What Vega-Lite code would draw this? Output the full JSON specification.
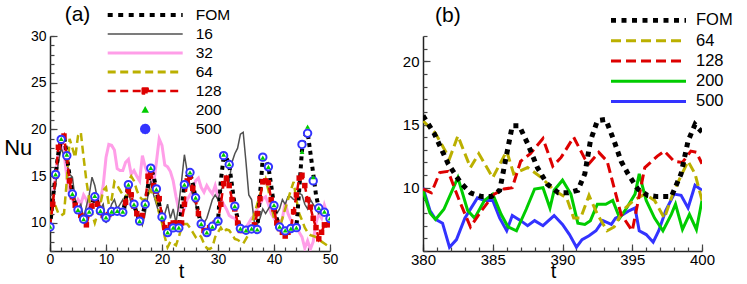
{
"$schema":"https://vega.github.io/schema/vega-lite/v6.json",
"background":"white",
"padding":{"left":3,"top":3,"right":5,"bottom":5},
"spacing":64,
"config":{"view":{"stroke":null},"axis":{"grid":false,"domainColor":"#222222","domainWidth":1.5,"tickColor":"#444444","tickWidth":1.2,"labelColor":"black","labelFont":"Liberation Sans","titleFont":"Liberation Sans","titleFontWeight":"normal","titleColor":"black"}},
"resolve":{"scale":{"color":"independent"},"legend":{"color":"independent"}},
"datasets":{
"a":[
{"t":0,"FOM":9.6,"16":10,"32":10,"64":10.5,"128":9.6,"200":9.6,"500":9.57},
{"t":0.5,"FOM":12.5,"16":12.5,"32":12.5,"64":12.5,"128":12},
{"t":1,"FOM":15.2,"16":14,"32":15,"64":11.8,"128":15,"200":15.2,"500":15.19},
{"t":1.5,"FOM":17.5,"16":16.5,"32":17.5,"64":11,"128":18.1},
{"t":2,"FOM":18.9,"16":18,"32":18.5,"64":10.8,"128":18.7,"200":19,"500":18.94},
{"t":2.5,"FOM":19.4,"16":17.2,"32":17.5,"64":11,"128":19.3},
{"t":3,"FOM":17.2,"16":16.4,"32":15,"64":14.5,"128":17,"200":17.3,"500":17.2},
{"t":3.5,"FOM":15,"16":15.2,"32":13,"64":19,"128":14.5},
{"t":4,"FOM":13.1,"16":14.9,"32":12.5,"64":18,"128":12.8,"200":13.1,"500":13.1},
{"t":4.5,"FOM":12,"16":12.5,"32":11.8,"64":17,"128":11.9},
{"t":5,"FOM":11.4,"16":11.5,"32":12.5,"64":19.3,"128":11.3,"200":11.4,"500":11.4},
{"t":5.5,"FOM":10.8,"16":12,"32":12,"64":19.7,"128":10.8},
{"t":6,"FOM":10.4,"16":10.5,"32":13,"64":17,"128":10.3,"200":10.4,"500":10.4},
{"t":6.5,"FOM":10.6,"16":11.8,"32":12.5,"64":14.5,"128":9.8},
{"t":7,"FOM":11.2,"16":13,"32":11.5,"64":12.5,"128":11,"200":11.2,"500":11.15},
{"t":7.5,"FOM":12,"16":14.9,"32":12.5,"64":11,"128":11.8},
{"t":8,"FOM":12.8,"16":14,"32":13,"64":10,"128":12.6,"200":12.9,"500":12.8},
{"t":8.5,"FOM":12.2,"16":12.5,"32":12,"64":11,"128":12},
{"t":9,"FOM":11.3,"16":11.5,"32":12.5,"64":12,"128":11.2,"200":11.3,"500":11.3},
{"t":9.5,"FOM":10.8,"16":12,"32":14,"64":13.5,"128":10.8},
{"t":10,"FOM":10.5,"16":10,"32":17,"64":13.8,"128":10.5,"200":10.6,"500":10.55},
{"t":10.5,"FOM":10.8,"16":11,"32":18.4,"64":12,"128":10.9},
{"t":11,"FOM":11.2,"16":12,"32":18.3,"64":12.5,"128":11.2,"200":11.2,"500":11.22},
{"t":11.5,"FOM":11.3,"16":12.5,"32":17.8,"64":14.4,"128":11.2},
{"t":12,"FOM":11.2,"16":11.5,"32":15.8,"64":14,"128":11.2,"200":11.3,"500":11.25},
{"t":12.5,"FOM":11.2,"16":12,"32":15.6,"64":13.5,"128":11.2},
{"t":13,"FOM":11.1,"16":12.5,"32":15.6,"64":13,"128":11.1,"200":11.2,"500":11.15},
{"t":13.5,"FOM":12.5,"16":11.5,"32":16.5,"64":12.5,"128":12.2},
{"t":14,"FOM":14.1,"16":13.5,"32":16.8,"64":14.5,"128":13.5,"200":14.1,"500":14.1},
{"t":14.5,"FOM":13.2,"16":12,"32":15.2,"64":15,"128":13},
{"t":15,"FOM":12,"16":11.5,"32":15.6,"64":14.5,"128":11.8,"200":12,"500":12},
{"t":15.5,"FOM":11,"16":11.2,"32":15,"64":13.5,"128":11},
{"t":16,"FOM":10.2,"16":10.8,"32":14.5,"64":12.8,"128":10.2,"200":10.2,"500":10.2},
{"t":16.5,"FOM":10.8,"16":9.8,"32":17.2,"64":12.5,"128":10.8},
{"t":17,"FOM":12,"16":11,"32":16,"64":12.5,"128":12,"200":12,"500":12},
{"t":17.5,"FOM":14,"16":13,"32":15.2,"64":13,"128":15},
{"t":18,"FOM":15.9,"16":14.5,"32":14.8,"64":13.5,"128":15.5,"200":15.9,"500":15.86},
{"t":18.5,"FOM":15,"16":13,"32":14.2,"64":13,"128":14},
{"t":19,"FOM":13.6,"16":12,"32":16.5,"64":12.5,"128":13.4,"200":13.6,"500":13.64},
{"t":19.5,"FOM":12,"16":11,"32":19,"64":11,"128":12.6},
{"t":20,"FOM":10.6,"16":10.5,"32":18.3,"64":10,"128":10.7,"200":10.6,"500":10.64},
{"t":20.5,"FOM":9.6,"16":11,"32":16.2,"64":8.5,"128":9.5},
{"t":21,"FOM":9,"16":12,"32":16,"64":7.4,"128":9.2,"200":9,"500":8.97},
{"t":21.5,"FOM":9.2,"16":10.5,"32":15.5,"64":8,"128":9.8},
{"t":22,"FOM":9.5,"16":11.5,"32":14.5,"64":7.8,"128":10,"200":9.5,"500":9.47},
{"t":22.5,"FOM":9.4,"16":10,"32":12.8,"64":7.6,"128":10},
{"t":23,"FOM":9.5,"16":12,"32":11.4,"64":8.5,"128":9.9,"200":9.5,"500":9.47},
{"t":23.5,"FOM":11.5,"16":14.5,"32":11,"64":9.5,"128":10},
{"t":24,"FOM":14.1,"16":17.3,"32":11.5,"64":9.9,"128":12,"200":14.1,"500":14.1},
{"t":24.5,"FOM":15,"16":15.5,"32":12.5,"64":9.9,"128":14.5},
{"t":25,"FOM":15.4,"16":14,"32":13,"64":9.5,"128":15,"200":15.4,"500":15.4},
{"t":25.5,"FOM":14.2,"16":13,"32":13.5,"64":9,"128":13.7},
{"t":26,"FOM":12.7,"16":12,"32":14.5,"64":8.5,"128":12.5,"200":12.7,"500":12.7},
{"t":26.5,"FOM":11,"16":11,"32":14.8,"64":8.8,"128":11},
{"t":27,"FOM":9.9,"16":10.5,"32":13.8,"64":8.5,"128":9.8,"200":9.9,"500":9.9},
{"t":27.5,"FOM":9.3,"16":10,"32":13.3,"64":7.8,"128":9.2},
{"t":28,"FOM":9,"16":10.5,"32":14,"64":7.3,"128":9,"200":9,"500":8.97},
{"t":28.5,"FOM":9.2,"16":11.5,"32":13.5,"64":7.2,"128":9.5},
{"t":29,"FOM":9.6,"16":12.5,"32":13.1,"64":7.4,"128":9.7,"200":9.6,"500":9.64},
{"t":29.5,"FOM":9.8,"16":13,"32":14,"64":8.5,"128":10},
{"t":30,"FOM":10.2,"16":12.5,"32":12.8,"64":9,"128":10.2,"200":10.2,"500":10.2},
{"t":30.5,"FOM":14.5,"16":13.5,"32":12.6,"64":9.5,"128":12},
{"t":31,"FOM":17,"16":14,"32":12,"64":9,"128":14.2,"200":17.3,"500":17.2},
{"t":31.5,"FOM":17,"16":15,"32":11.5,"64":9.3,"128":14.8},
{"t":32,"FOM":16.2,"16":14.5,"32":10.8,"64":9.2,"128":14,"200":16.3,"500":16.25},
{"t":32.5,"FOM":14,"16":16.5,"32":10.6,"64":8.8,"128":12.5},
{"t":33,"FOM":11.8,"16":17.4,"32":10.5,"64":8.3,"128":11.5,"200":11.8,"500":11.8},
{"t":33.5,"FOM":10.5,"16":18,"32":10,"64":8.2,"128":10},
{"t":34,"FOM":9.4,"16":19.5,"32":9.5,"64":8,"128":9.2,"200":9.4,"500":9.4},
{"t":34.5,"FOM":9.3,"16":19.7,"32":9.3,"64":7.8,"128":9.2},
{"t":35,"FOM":9.2,"16":16.5,"32":9.5,"64":8.3,"128":9.2,"200":9.2,"500":9.22},
{"t":35.5,"FOM":9.3,"16":13,"32":10,"64":8.8,"128":9.3},
{"t":36,"FOM":9.4,"16":12.5,"32":10.5,"64":9.9,"128":9.3,"200":9.4,"500":9.36},
{"t":36.5,"FOM":9.3,"16":10,"32":10.8,"64":11,"128":9.8},
{"t":37,"FOM":9.3,"16":9.8,"32":11.5,"64":12,"128":11,"200":9.3,"500":9.3},
{"t":37.5,"FOM":13,"16":10.5,"32":12,"64":13,"128":12.6},
{"t":38,"FOM":17,"16":11.5,"32":12.6,"64":14,"128":14.4,"200":17,"500":17.04},
{"t":38.5,"FOM":16.8,"16":11,"32":12.8,"64":14.7,"128":14.5},
{"t":39,"FOM":16,"16":11.5,"32":12,"64":13.5,"128":14.3,"200":16,"500":16},
{"t":39.5,"FOM":14,"16":12,"32":11,"64":12,"128":12.5},
{"t":40,"FOM":11.9,"16":11.5,"32":10.5,"64":10.5,"128":11.5,"200":11.9,"500":11.86},
{"t":40.5,"FOM":10.5,"16":11,"32":10,"64":9.8,"128":10},
{"t":41,"FOM":9.6,"16":11.5,"32":9.8,"64":9.4,"128":9.4,"200":9.6,"500":9.57},
{"t":41.5,"FOM":9.3,"16":12.5,"32":10.5,"64":10.5,"128":9},
{"t":42,"FOM":9.2,"16":12,"32":12.2,"64":11.5,"128":8.6,"200":9.2,"500":9.15},
{"t":42.5,"FOM":9.2,"16":12.8,"32":11,"64":12.5,"128":9},
{"t":43,"FOM":9.4,"16":12.8,"32":10.3,"64":13.5,"128":9.5,"200":9.4,"500":9.4},
{"t":43.5,"FOM":9.4,"16":12.5,"32":10,"64":14.4,"128":11.2},
{"t":44,"FOM":9.5,"16":12.5,"32":9.5,"64":12.5,"128":13,"200":9.5,"500":9.5},
{"t":44.5,"FOM":13.5,"16":13.2,"32":9,"64":11,"128":14.8},
{"t":45,"FOM":17.8,"16":13,"32":8.5,"64":10.3,"128":15.1,"200":17.6,"500":18.4},
{"t":45.5,"FOM":19.2,"16":12,"32":7.3,"64":9.5,"128":14},
{"t":46,"FOM":19.7,"16":11.5,"32":8.1,"64":9,"128":12.5,"200":20.3,"500":19.6},
{"t":46.5,"FOM":17.5,"16":12.5,"32":7.2,"64":8.7,"128":11.7},
{"t":47,"FOM":15.3,"16":12,"32":8,"64":8.6,"128":10.5,"200":14.9,"500":14.5},
{"t":47.5,"FOM":13,"16":11.5,"32":10,"64":8.5,"128":9.5},
{"t":48,"FOM":11.6,"16":11,"32":11,"64":8.2,"128":8.3,"200":11.6,"500":11.6},
{"t":48.5,"FOM":11.4,"16":11.5,"32":10.5,"64":8,"128":9},
{"t":49,"FOM":11.2,"16":11,"32":11.9,"64":7.8,"128":9.8,"200":11.2,"500":11.15},
{"t":49.5,"FOM":10.8,"16":10.8,"32":11,"64":7.6,"128":9.8},
{"t":50,"FOM":10.5,"16":10.5,"32":10.5,"64":7.8,"128":10,"200":10.5,"500":10.47}
],
"b":[
{"s":"FOM","t":380,"v":15.7},{"s":"FOM","t":380.8,"v":14.3},{"s":"FOM","t":381.8,"v":11.9},{"s":"FOM","t":382.7,"v":10.4},{"s":"FOM","t":383.4,"v":9.6},{"s":"FOM","t":384.2,"v":9.3},{"s":"FOM","t":384.9,"v":9.3},{"s":"FOM","t":385.5,"v":9.8},{"s":"FOM","t":385.9,"v":12.1},{"s":"FOM","t":386.4,"v":14.9},{"s":"FOM","t":386.9,"v":14.9},{"s":"FOM","t":387.5,"v":13.5},{"s":"FOM","t":388.2,"v":11.6},{"s":"FOM","t":388.9,"v":10.3},{"s":"FOM","t":389.7,"v":9.6},{"s":"FOM","t":390.4,"v":9.6},{"s":"FOM","t":391.1,"v":9.8},{"s":"FOM","t":391.6,"v":11.1},{"s":"FOM","t":392,"v":13.7},{"s":"FOM","t":392.5,"v":15.3},{"s":"FOM","t":393.1,"v":15.4},{"s":"FOM","t":393.7,"v":13.7},{"s":"FOM","t":394.2,"v":12.1},{"s":"FOM","t":394.7,"v":11.1},{"s":"FOM","t":395.4,"v":9.9},{"s":"FOM","t":396.1,"v":9.4},{"s":"FOM","t":396.8,"v":9.3},{"s":"FOM","t":397.8,"v":9.3},{"s":"FOM","t":398.5,"v":11.1},{"s":"FOM","t":399,"v":13.7},{"s":"FOM","t":399.5,"v":15},{"s":"FOM","t":400,"v":14.4},
{"s":"64","t":380,"v":15.3},{"s":"64","t":380.9,"v":14.3},{"s":"64","t":381.9,"v":12.3},{"s":"64","t":382.5,"v":14.1},{"s":"64","t":383.4,"v":11.6},{"s":"64","t":384,"v":12.7},{"s":"64","t":385,"v":10.8},{"s":"64","t":386,"v":12.9},{"s":"64","t":386.5,"v":11.1},{"s":"64","t":387.5,"v":11.6},{"s":"64","t":388.5,"v":10.8},{"s":"64","t":389.4,"v":9.8},{"s":"64","t":390.3,"v":9.2},{"s":"64","t":390.8,"v":7.6},{"s":"64","t":391.3,"v":7.6},{"s":"64","t":391.9,"v":9.4},{"s":"64","t":392.5,"v":7.9},{"s":"64","t":393.2,"v":6.6},{"s":"64","t":393.7,"v":6.9},{"s":"64","t":394.4,"v":8.3},{"s":"64","t":395.1,"v":9},{"s":"64","t":395.9,"v":9.5},{"s":"64","t":396.6,"v":9},{"s":"64","t":397.3,"v":7.6},{"s":"64","t":398,"v":9.8},{"s":"64","t":399,"v":12.1},{"s":"64","t":399.5,"v":11.1},{"s":"64","t":400,"v":9},
{"s":"128","t":380,"v":9.9},{"s":"128","t":380.6,"v":9.6},{"s":"128","t":381.2,"v":11.2},{"s":"128","t":381.8,"v":11.3},{"s":"128","t":382.6,"v":9},{"s":"128","t":383.4,"v":6.9},{"s":"128","t":384.2,"v":8.2},{"s":"128","t":385.1,"v":9.5},{"s":"128","t":385.8,"v":9.9},{"s":"128","t":386.4,"v":10},{"s":"128","t":387,"v":12.1},{"s":"128","t":387.7,"v":12.7},{"s":"128","t":388.6,"v":13.9},{"s":"128","t":389.3,"v":11.7},{"s":"128","t":389.9,"v":12.4},{"s":"128","t":390.8,"v":14},{"s":"128","t":391.6,"v":12.3},{"s":"128","t":391.9,"v":11.9},{"s":"128","t":392.6,"v":12.8},{"s":"128","t":393.2,"v":12.1},{"s":"128","t":393.7,"v":10},{"s":"128","t":394.2,"v":7.9},{"s":"128","t":395,"v":6.6},{"s":"128","t":395.9,"v":11.6},{"s":"128","t":396.8,"v":12.5},{"s":"128","t":397.3,"v":12.9},{"s":"128","t":398,"v":12.1},{"s":"128","t":398.6,"v":12},{"s":"128","t":399.2,"v":12.9},{"s":"128","t":399.6,"v":12.8},{"s":"128","t":400,"v":11.9},
{"s":"200","t":380,"v":9.8},{"s":"200","t":380.5,"v":8},{"s":"200","t":380.9,"v":7.5},{"s":"200","t":381.5,"v":8.3},{"s":"200","t":382.5,"v":10.8},{"s":"200","t":383.2,"v":8.2},{"s":"200","t":383.7,"v":7.6},{"s":"200","t":384.4,"v":9},{"s":"200","t":385,"v":9.5},{"s":"200","t":385.6,"v":7.9},{"s":"200","t":386.1,"v":6.9},{"s":"200","t":386.7,"v":6.6},{"s":"200","t":387.4,"v":8.3},{"s":"200","t":388,"v":9.9},{"s":"200","t":388.6,"v":10},{"s":"200","t":389.1,"v":8.4},{"s":"200","t":389.4,"v":9.8},{"s":"200","t":390,"v":10.6},{"s":"200","t":390.6,"v":9.5},{"s":"200","t":391.1,"v":7.2},{"s":"200","t":391.6,"v":7.1},{"s":"200","t":392,"v":7.4},{"s":"200","t":392.5,"v":8.7},{"s":"200","t":393.1,"v":8.7},{"s":"200","t":393.6,"v":9},{"s":"200","t":394.1,"v":7.6},{"s":"200","t":394.6,"v":8.4},{"s":"200","t":395.2,"v":9.5},{"s":"200","t":395.5,"v":11.1},{"s":"200","t":396,"v":9},{"s":"200","t":396.6,"v":7.6},{"s":"200","t":397.2,"v":6.6},{"s":"200","t":397.8,"v":7.9},{"s":"200","t":398.1,"v":8.7},{"s":"200","t":398.6,"v":6.7},{"s":"200","t":399.1,"v":7.9},{"s":"200","t":399.6,"v":6.7},{"s":"200","t":400,"v":9},
{"s":"500","t":380,"v":10},{"s":"500","t":380.5,"v":8.2},{"s":"500","t":380.9,"v":7.5},{"s":"500","t":381.4,"v":7.2},{"s":"500","t":381.9,"v":5.3},{"s":"500","t":382.4,"v":5.9},{"s":"500","t":383,"v":7.6},{"s":"500","t":383.9,"v":9.2},{"s":"500","t":384.4,"v":9},{"s":"500","t":385,"v":9},{"s":"500","t":385.5,"v":7.6},{"s":"500","t":386,"v":6.6},{"s":"500","t":386.4,"v":7.8},{"s":"500","t":387,"v":7.4},{"s":"500","t":387.5,"v":7},{"s":"500","t":388,"v":7.4},{"s":"500","t":388.6,"v":7},{"s":"500","t":389.4,"v":7.8},{"s":"500","t":390,"v":7.1},{"s":"500","t":390.5,"v":6.3},{"s":"500","t":391,"v":5.3},{"s":"500","t":391.4,"v":5.9},{"s":"500","t":391.9,"v":6.2},{"s":"500","t":392.4,"v":6.6},{"s":"500","t":392.9,"v":7.4},{"s":"500","t":393.5,"v":7.1},{"s":"500","t":393.8,"v":7.6},{"s":"500","t":394.2,"v":7.8},{"s":"500","t":394.8,"v":8.2},{"s":"500","t":395.2,"v":8.4},{"s":"500","t":395.5,"v":6.6},{"s":"500","t":396,"v":6.3},{"s":"500","t":396.5,"v":5.7},{"s":"500","t":396.9,"v":6.6},{"s":"500","t":397.4,"v":8.2},{"s":"500","t":398,"v":9.5},{"s":"500","t":398.5,"v":9.4},{"s":"500","t":399,"v":8.4},{"s":"500","t":399.5,"v":10.2},{"s":"500","t":400,"v":9.8}
]
},
"hconcat":[
{
"width":280,"height":215,
"data":{"name":"a"},
"transform":[{"fold":["FOM","16","32","64","128","200","500"],"as":["s","v"]}],
"resolve":{"axis":{"x":"independent","y":"independent"}},
"layer":[
{"transform":[{"filter":"datum.s==='32'"}],
 "mark":{"type":"line","strokeWidth":3,"clip":true},
 "encoding":{
  "x":{"field":"t","type":"quantitative","scale":{"domain":[0,50],"nice":false,"zero":false},
       "axis":{"orient":"bottom","values":[0,10,20,30,40,50],"tickSize":-7,"labelPadding":8,"labelFontSize":14,"labelFlush":false,"title":"t","titleFontSize":20,"titleX":131,"titleY":26,"titleBaseline":"alphabetic","titleAlign":"center"}},
  "y":{"field":"v","type":"quantitative","scale":{"domain":[7,30],"nice":false,"zero":false},
       "axis":{"orient":"left","values":[10,15,20,25,30],"tickSize":-7,"labelPadding":11,"labelFontSize":14,"labelFlush":false,"title":"Nu","titleFontSize":22,"titleAngle":0,"titleX":-46.3,"titleY":111,"titleAlign":"left","titleBaseline":"middle"}},
  "color":{"field":"s","type":"nominal",
   "scale":{"domain":["FOM","16","32","64","128","200","500"],"range":["#000000","#505050","#ff9ee8","#bbb000","#dd0000","#00cc00","#3333ff"]},
   "legend":{"orient":"none","legendX":54.95,"legendY":-29.3,"title":null,"padding":0,"columns":1,
     "symbolType":"M-1,0H14","symbolSize":100,"symbolStrokeWidth":3,"symbolOpacity":1,
     "clipHeight":16.6,"rowPadding":2,
     "labelFont":"Liberation Sans","labelFontSize":15.5,"labelOffset":75.25,"labelColor":"black",
     "encode":{"symbols":{"update":{
       "shape":{"signal":"datum.value==='128'?'M-1,0H14M6,-0.5H7V0.5H6Z':datum.value==='200'?'M6.5,-0.8L7.25,0.55L5.75,0.55Z':datum.value==='500'?'M7.35,0L7.236,0.425L6.925,0.736L6.5,0.85L6.075,0.736L5.764,0.425L5.65,0L5.764,-0.425L6.075,-0.736L6.5,-0.85L6.925,-0.736L7.236,-0.425Z':'M-1,0H14'"},
       "fill":{"signal":"datum.value==='128'?'#dd0000':datum.value==='200'?'#00cc00':datum.value==='500'?'#ffffff':'transparent'"},
       "stroke":{"signal":"datum.value==='FOM'?'#000000':datum.value==='16'?'#505050':datum.value==='32'?'#ff9ee8':datum.value==='64'?'#bbb000':datum.value==='128'?'#dd0000':datum.value==='200'?'#00cc00':'#3333ff'"},
       "strokeWidth":{"signal":"datum.value==='FOM'?4.2:datum.value==='16'?1.5:datum.value==='200'?0:datum.value==='500'?2:datum.value==='128'?2.5:3"},
       "strokeDash":{"signal":"datum.value==='FOM'?[5,5.5]:(datum.value==='64'||datum.value==='128')?[8,4.5]:[1,0]"},
       "strokeJoin":{"value":"round"},
       "opacity":{"value":1}
     }}}}}
 }},
{"transform":[{"filter":"datum.s==='16'"}],
 "mark":{"type":"line","strokeWidth":1.5,"clip":true},
 "encoding":{
  "x":{"field":"t","type":"quantitative","axis":{"orient":"bottom","values":[0,2,4,6,8,10,12,14,16,18,20,22,24,26,28,30,32,34,36,38,40,42,44,46,48,50],"tickSize":-4,"labels":false,"domain":false,"title":null}},
  "y":{"field":"v","type":"quantitative","axis":{"orient":"left","values":[7,8,9,10,11,12,13,14,15,16,17,18,19,20,21,22,23,24,25,26,27,28,29,30],"tickSize":-4,"labels":false,"domain":false,"title":"(a)","titleFontSize":21,"titleAngle":0,"titleX":14.2,"titleY":-15.4,"titleAlign":"left","titleBaseline":"alphabetic"}},
  "color":{"field":"s","type":"nominal"}
 }},
{"transform":[{"filter":"datum.s==='64'"}],
 "mark":{"type":"line","strokeWidth":2.5,"strokeDash":[8,4.5],"clip":true},
 "encoding":{"x":{"field":"t","type":"quantitative","axis":null},"y":{"field":"v","type":"quantitative","axis":null},"color":{"field":"s","type":"nominal"}}},
{"transform":[{"filter":"datum.s==='FOM'"}],
 "mark":{"type":"line","strokeWidth":4,"strokeDash":[4,4],"clip":true},
 "encoding":{"x":{"field":"t","type":"quantitative","axis":null},"y":{"field":"v","type":"quantitative","axis":null},"color":{"field":"s","type":"nominal"}}},
{"transform":[{"filter":"datum.s==='128'"}],
 "mark":{"type":"line","strokeWidth":2.5,"strokeDash":[8,4.5],"clip":true},
 "encoding":{"x":{"field":"t","type":"quantitative","axis":null},"y":{"field":"v","type":"quantitative","axis":null},"color":{"field":"s","type":"nominal"}}},
{"transform":[{"filter":"datum.s==='128'"}],
 "mark":{"type":"point","shape":"square","filled":true,"size":30,"opacity":1,"clip":true},
 "encoding":{"x":{"field":"t","type":"quantitative","axis":null},"y":{"field":"v","type":"quantitative","axis":null},"color":{"field":"s","type":"nominal"}}},
{"transform":[{"filter":"datum.s==='500'"}],
 "mark":{"type":"point","shape":"circle","filled":false,"size":55,"strokeWidth":2,"opacity":1,"fill":"white","fillOpacity":1,"clip":true},
 "encoding":{"x":{"field":"t","type":"quantitative","axis":null},"y":{"field":"v","type":"quantitative","axis":null},"color":{"field":"s","type":"nominal"}}},
{"transform":[{"filter":"datum.s==='200'"}],
 "mark":{"type":"point","shape":"triangle-up","filled":true,"size":24,"opacity":1,"clip":true},
 "encoding":{"x":{"field":"t","type":"quantitative","axis":null},"y":{"field":"v","type":"quantitative","axis":null},"color":{"field":"s","type":"nominal"}}}
]
},
{
"width":279,"height":215,
"data":{"name":"b"},
"resolve":{"axis":{"x":"independent","y":"independent"}},
"layer":[
{"transform":[{"filter":"datum.s==='500'"}],
 "mark":{"type":"line","strokeWidth":3,"clip":true},
 "encoding":{
  "x":{"field":"t","type":"quantitative","scale":{"domain":[380,400],"nice":false,"zero":false},
       "axis":{"orient":"bottom","values":[380,385,390,395,400],"tickSize":-7,"labelPadding":8,"labelFontSize":15,"labelFlush":false,"title":"t","titleFontSize":20,"titleX":130,"titleY":26,"titleBaseline":"alphabetic","titleAlign":"center"}},
  "y":{"field":"v","type":"quantitative","scale":{"domain":[5,22],"nice":false,"zero":false},
       "axis":{"orient":"left","values":[10,15,20],"tickSize":-7,"labelPadding":11,"labelFontSize":15,"labelFlush":false,"title":null}},
  "color":{"field":"s","type":"nominal",
   "scale":{"domain":["FOM","64","128","200","500"],"range":["#000000","#bbb000","#dd0000","#00cc00","#3333ff"]},
   "legend":{"orient":"none","legendX":184.75,"legendY":-24.6,"title":null,"padding":0,"columns":1,
     "symbolType":"M-1,0H14","symbolSize":100,"symbolStrokeWidth":3,"symbolOpacity":1,
     "clipHeight":18,"rowPadding":2.25,
     "labelFont":"Liberation Sans","labelFontSize":16.5,"labelOffset":71.75,"labelColor":"black",
     "encode":{"symbols":{"update":{
       "shape":{"value":"M-1,0H14"},
       "fill":{"value":"transparent"},
       "stroke":{"signal":"datum.value==='FOM'?'#000000':datum.value==='64'?'#bbb000':datum.value==='128'?'#dd0000':datum.value==='200'?'#00cc00':'#3333ff'"},
       "strokeWidth":{"signal":"datum.value==='FOM'?4.6:3"},
       "strokeDash":{"signal":"datum.value==='FOM'?[5,5.5]:(datum.value==='64'||datum.value==='128')?[10,5]:[1,0]"},
       "strokeJoin":{"value":"round"},
       "opacity":{"value":1}
     }}}}}
 }},
{"transform":[{"filter":"datum.s==='200'"}],
 "mark":{"type":"line","strokeWidth":3,"clip":true},
 "encoding":{
  "x":{"field":"t","type":"quantitative","axis":{"orient":"bottom","values":[380,381,382,383,384,385,386,387,388,389,390,391,392,393,394,395,396,397,398,399,400],"tickSize":-4,"labels":false,"domain":false,"title":null}},
  "y":{"field":"v","type":"quantitative","axis":{"orient":"left","values":[5,6,7,8,9,10,11,12,13,14,15,16,17,18,19,20,21,22],"tickSize":-4,"labels":false,"domain":false,"title":"(b)","titleFontSize":21,"titleAngle":0,"titleX":11.5,"titleY":-15,"titleAlign":"left","titleBaseline":"alphabetic"}},
  "color":{"field":"s","type":"nominal"}
 }},
{"transform":[{"filter":"datum.s==='64'"}],
 "mark":{"type":"line","strokeWidth":3,"strokeDash":[10,5],"clip":true},
 "encoding":{"x":{"field":"t","type":"quantitative","axis":null},"y":{"field":"v","type":"quantitative","axis":null},"color":{"field":"s","type":"nominal"}}},
{"transform":[{"filter":"datum.s==='128'"}],
 "mark":{"type":"line","strokeWidth":3,"strokeDash":[10,5],"clip":true},
 "encoding":{"x":{"field":"t","type":"quantitative","axis":null},"y":{"field":"v","type":"quantitative","axis":null},"color":{"field":"s","type":"nominal"}}},
{"transform":[{"filter":"datum.s==='FOM'"}],
 "mark":{"type":"line","strokeWidth":5,"strokeDash":[5,5],"clip":true},
 "encoding":{"x":{"field":"t","type":"quantitative","axis":null},"y":{"field":"v","type":"quantitative","axis":null},"color":{"field":"s","type":"nominal"}}}
]
}
]
}
